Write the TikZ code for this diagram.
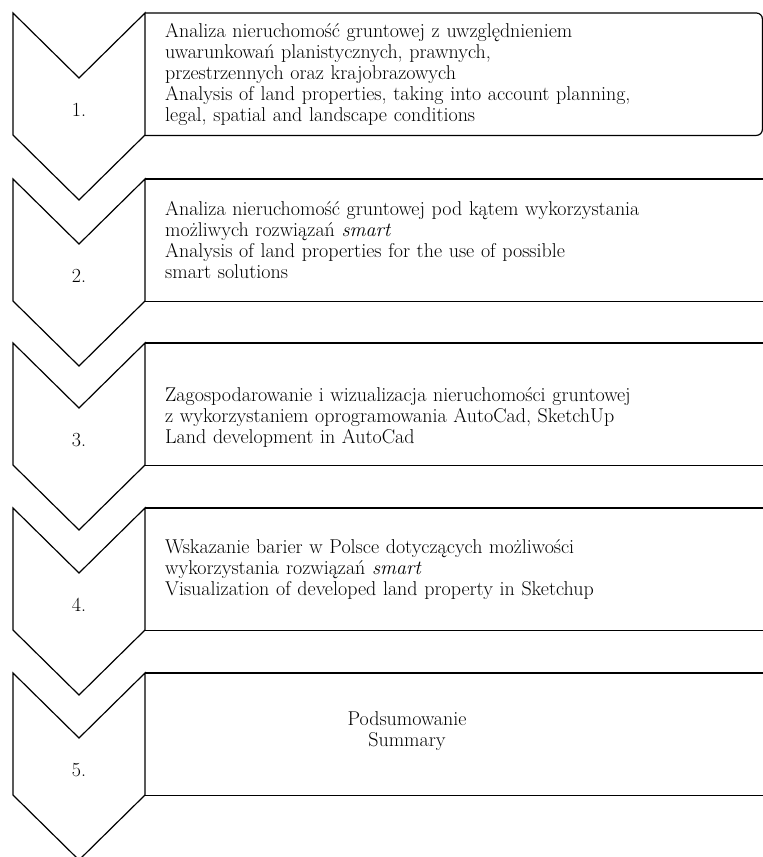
\documentclass[tikz,border=0pt]{standalone}
\usepackage{fontspec}
\usetikzlibrary{calc}

\tikzset{
  stepline/.style={line width=1.2pt, line join=miter},
  stepbox/.style={minimum width=618pt, minimum height=122pt, inner xsep=20pt,
    text width=578pt, align=left, anchor=north west},
  stepnum/.style={inner sep=0pt}
}

\begin{document}
\begin{tikzpicture}[x=1pt,y=-1pt]
  \useasboundingbox (0,0) rectangle (763,857);
  \fontsize{20}{21}\selectfont
  % chevrons with their numbers
  \foreach \i/\t in {1/13,2/179,3/343,4/508,5/673}{
    \draw[stepline] (13,\t) -- (79,\t+65) -- (145,\t) -- (145,\t+122)
      -- (79,\t+187) -- (13,\t+122) -- cycle;
    \node[stepnum] (n\i) at (79,\t+97) {\i.};
  }
  % boxes
  \node[stepbox] (b1) at (145,13) {Analiza nieruchomość gruntowej z uwzględnieniem\\
    uwarunkowań planistycznych, prawnych,\\
    przestrzennych oraz krajobrazowych\\
    Analysis of land properties, taking into account planning,\\
    legal, spatial and landscape conditions};
  \node[stepbox] (b2) at (145,179) {Analiza nieruchomość gruntowej pod kątem wykorzystania\\
    możliwych rozwiązań \textit{smart}\\
    Analysis of land properties for the use of possible\\
    smart solutions};
  \node[stepbox, text depth=20pt] (b3) at (145,343) {Zagospodarowanie i wizualizacja nieruchomości gruntowej\\
    z wykorzystaniem oprogramowania AutoCad, SketchUp\\
    Land development in AutoCad};
  \node[stepbox] (b4) at (145,508) {Wskazanie barier w Polsce dotyczących możliwości\\
    wykorzystania rozwiązań \textit{smart}\\
    Visualization of developed land property in Sketchup};
  \node[stepbox] (b5) at (145,673) {};
  \node[align=center] (t5) at ($(b5.west)+(262,-3)$) {Podsumowanie\\ Summary};
  \draw[stepline, rounded corners=6pt] (b1.north west) -- ($(b1.north east)+(-1,0)$)
    -- ($(b1.south east)+(-1,0)$) -- (b1.south west);
  \foreach \b in {b2,b3,b4,b5}
    \draw[stepline] (\b.north west) -- (\b.north east) -- (\b.south east) -- (\b.south west);
\end{tikzpicture}
\end{document}
